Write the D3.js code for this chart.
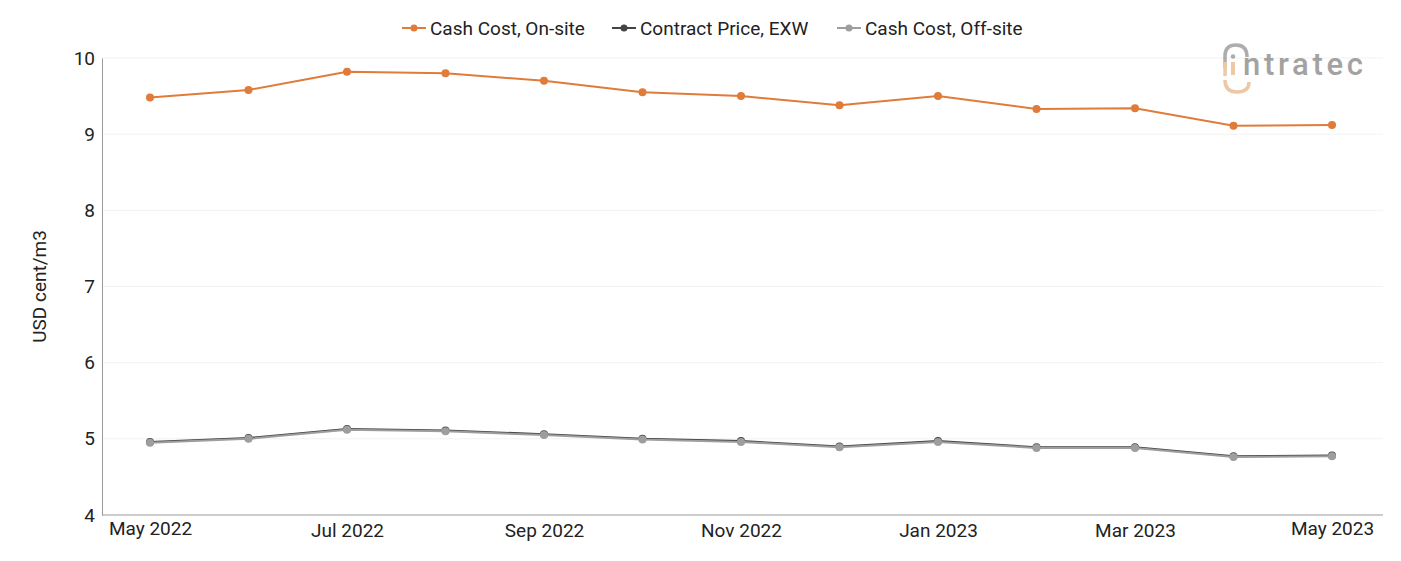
<!DOCTYPE html>
<html>
<head>
<meta charset="utf-8">
<script src="https://cdn.jsdelivr.net/npm/d3@7"></script>
<style>
  html, body { margin: 0; padding: 0; background: #fff; }
  svg { display: block; font-family: Roboto, "Noto Sans", sans-serif; }
</style>
</head>
<body>
<svg id="chart" width="1401" height="561"></svg>
<script>
const months = ["May 2022","Jun 2022","Jul 2022","Aug 2022","Sep 2022","Oct 2022","Nov 2022","Dec 2022","Jan 2023","Feb 2023","Mar 2023","Apr 2023","May 2023"];
const tickLabels = ["May 2022","Jul 2022","Sep 2022","Nov 2022","Jan 2023","Mar 2023","May 2023"];
const cashCostOnSite = [9.48, 9.58, 9.82, 9.80, 9.70, 9.55, 9.50, 9.38, 9.50, 9.33, 9.34, 9.11, 9.12];
const contractPriceEXW = [4.96, 5.01, 5.13, 5.11, 5.06, 5.00, 4.97, 4.90, 4.97, 4.89, 4.89, 4.77, 4.78];
const cashCostOffSite = [4.95, 5.00, 5.12, 5.10, 5.05, 4.99, 4.96, 4.89, 4.96, 4.88, 4.88, 4.76, 4.77];
const yTicks = [4, 5, 6, 7, 8, 9, 10];

const series = [
  { name: "Cash Cost, On-site", values: cashCostOnSite, color: "#e07b39" },
  { name: "Contract Price, EXW", values: contractPriceEXW, color: "#444444" },
  { name: "Cash Cost, Off-site", values: cashCostOffSite, color: "#9e9e9e" }
];

const svg = d3.select("#chart");
const margin = { left: 102, right: 18, top: 58, bottom: 46 };
const W = 1401, H = 561;
const FS = 19;

const x = d3.scalePoint().domain(months).range([150, 1332]);
const y = d3.scaleLinear().domain([4, 10]).range([H - margin.bottom, margin.top]);

// gridlines
svg.append("g").selectAll("line").data(yTicks.slice(1)).join("line")
  .attr("x1", margin.left).attr("x2", W - margin.right)
  .attr("y1", d => y(d)).attr("y2", d => y(d))
  .attr("stroke", "#f2f2f2").attr("stroke-width", 1);

// y axis
const yAxis = svg.append("g").attr("transform", `translate(${margin.left},0)`)
  .call(d3.axisLeft(y).tickValues(yTicks).tickSize(0).tickPadding(7).tickFormat(d3.format("d")));
yAxis.select(".domain").attr("stroke", "#999");
yAxis.selectAll("text").attr("font-size", FS).attr("fill", "#222").attr("font-family", "Roboto");

// x axis
const xAxis = svg.append("g").attr("transform", `translate(0,${H - margin.bottom})`)
  .call(d3.axisBottom(x).tickValues(tickLabels).tickSize(0).tickPadding(9));
xAxis.select(".domain").attr("stroke", "#999").attr("d", `M${margin.left},0H${W - margin.right}`);
xAxis.selectAll("text").attr("font-size", FS).attr("fill", "#222").attr("font-family", "Roboto");
xAxis.selectAll(".tick").filter(d => d === "May 2022" || d === "May 2023").select("text").attr("dy", "0.6em");

// y title
svg.append("text")
  .attr("transform", `translate(46,${(y(4) + y(10)) / 2}) rotate(-90)`)
  .attr("text-anchor", "middle").attr("font-size", FS).attr("fill", "#222")
  .text("USD cent/m3");

// logo
const logo = svg.append("g").attr("opacity", 0.6);
logo.append("path").attr("d", "M1225,68 L1225,56 Q1225,45 1236,45 Q1247,45 1247,57")
  .attr("fill", "none").attr("stroke", "#777").attr("stroke-width", 3.5);
logo.append("rect").attr("x", 1231).attr("y", 62).attr("width", 4).attr("height", 13).attr("fill", "#e0a56c");
logo.append("circle").attr("cx", 1233).attr("cy", 56.5).attr("r", 2.3).attr("fill", "#777");
logo.append("rect").attr("x", 1223.3).attr("y", 62).attr("width", 3.5).attr("height", 14).attr("fill", "#e0a56c");
logo.append("path").attr("d", "M1225,80 Q1225,92 1237,92 Q1249,92 1249,82")
  .attr("fill", "none").attr("stroke", "#e0a56c").attr("stroke-width", 3.5);
logo.append("text").attr("x", 1243).attr("y", 75).attr("font-size", 31).attr("font-weight", 500)
  .attr("fill", "#666").attr("font-family", "Roboto")
  .attr("textLength", 120).attr("lengthAdjust", "spacing").text("ntratec");

// lines
const line = d3.line().x((d, i) => x(months[i])).y(d => y(d));
series.forEach(s => {
  svg.append("path").datum(s.values).attr("d", line)
    .attr("fill", "none").attr("stroke", s.color).attr("stroke-width", 2);
  svg.append("g").selectAll("circle").data(s.values).join("circle")
    .attr("cx", (d, i) => x(months[i])).attr("cy", d => y(d)).attr("r", 4)
    .attr("fill", s.color);
});

// legend
const legendItems = [
  { s: series[0], x: 402 },
  { s: series[1], x: 612 },
  { s: series[2], x: 837 }
];
const lg = svg.append("g");
legendItems.forEach(it => {
  const g = lg.append("g").attr("transform", `translate(${it.x},28)`);
  g.append("line").attr("x1", 0).attr("x2", 24).attr("stroke", it.s.color).attr("stroke-width", 2);
  g.append("circle").attr("cx", 12).attr("r", 3.5).attr("fill", it.s.color);
  g.append("text").attr("x", 28).attr("dy", "0.35em").attr("font-size", FS).attr("fill", "#222")
    .text(it.s.name);
});
</script>
</body>
</html>
